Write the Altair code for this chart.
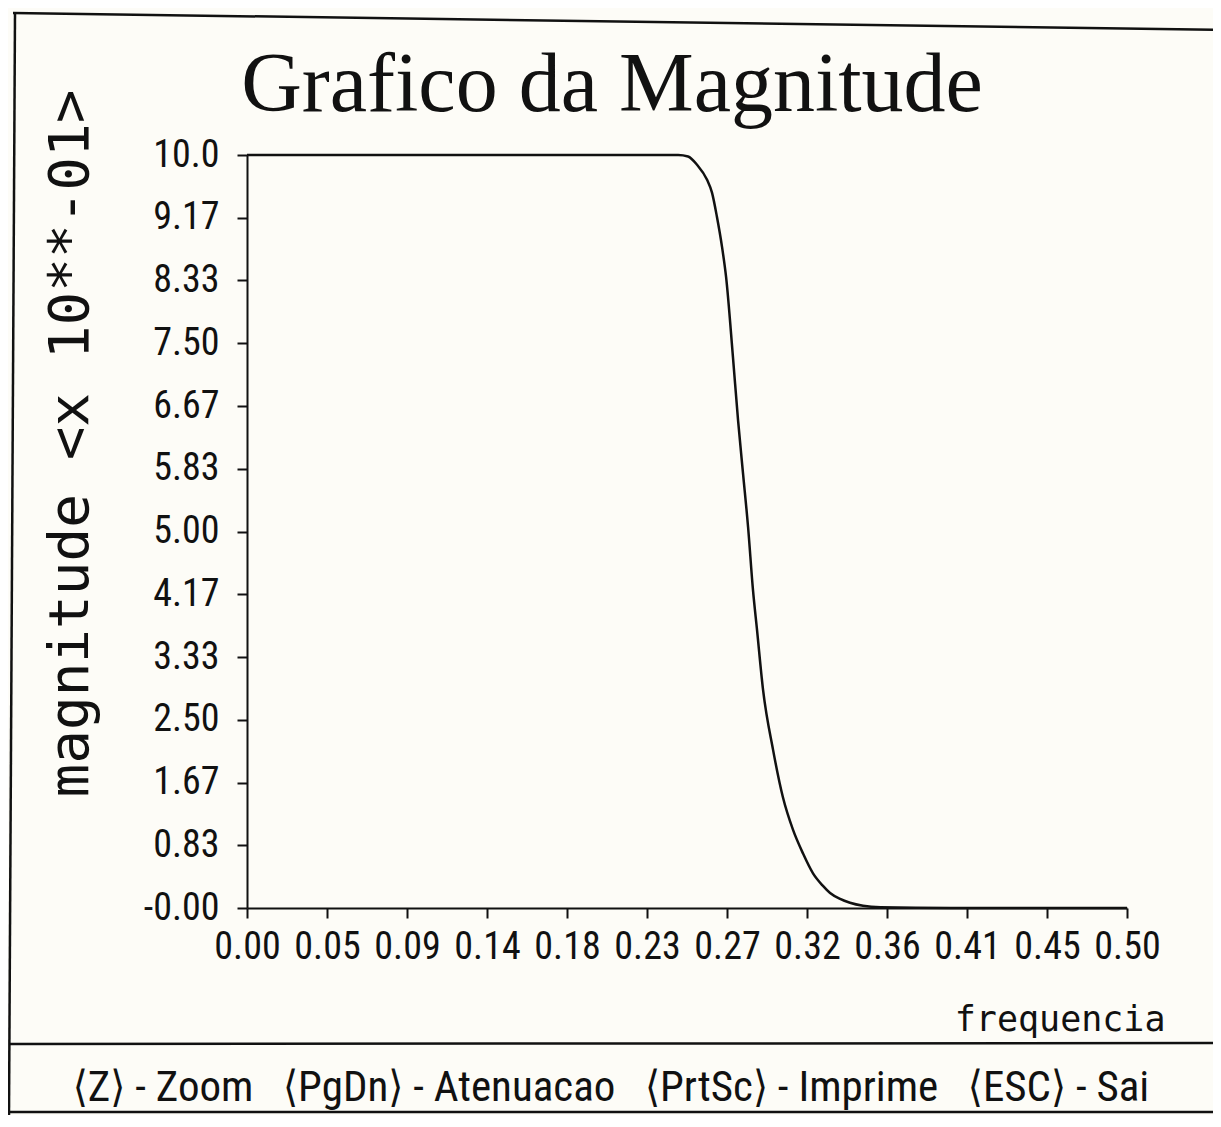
import altair as alt
import pandas as pd

# ---- data ----
freq = [0.0, 0.05, 0.10, 0.15, 0.20, 0.245, 0.2506, 0.2557, 0.2614, 0.2642,
        0.2670, 0.2699, 0.2722, 0.2761, 0.2790, 0.2818, 0.2847, 0.2875, 0.2898,
        0.2932, 0.2989, 0.3045, 0.3102, 0.3160, 0.3216, 0.3270, 0.3313, 0.3370,
        0.3426, 0.3500, 0.3600, 0.4000, 0.4500, 0.5000]
magnitude = [10.0, 10.0, 10.0, 10.0, 10.0, 10.0, 9.98, 9.87, 9.67, 9.50,
             9.18, 8.78, 8.38, 7.32, 6.48, 5.78, 5.06, 4.22, 3.69,
             2.90, 2.10, 1.47, 1.04, 0.72, 0.46, 0.30, 0.20, 0.12,
             0.07, 0.03, 0.01, 0.0, 0.0, 0.0]

x_tick_labels = ["0.00", "0.05", "0.09", "0.14", "0.18", "0.23", "0.27",
                 "0.32", "0.36", "0.41", "0.45", "0.50"]
y_tick_labels = ["-0.00", "0.83", "1.67", "2.50", "3.33", "4.17", "5.00",
                 "5.83", "6.67", "7.50", "8.33", "9.17", "10.0"]
x_tick_values = [i * 0.5 / (len(x_tick_labels) - 1) for i in range(len(x_tick_labels))]
y_tick_values = [i * 10.0 / (len(y_tick_labels) - 1) for i in range(len(y_tick_labels))]

title_text = "Grafico da Magnitude"
y_title = "magnitude <x 10**-01>"
x_title = "frequencia"
footer_items = ["⟨Z⟩ - Zoom", "⟨PgDn⟩ - Atenuacao", "⟨PrtSc⟩ - Imprime", "⟨ESC⟩ - Sai"]

df = pd.DataFrame({"f": freq, "m": magnitude})

NARROW = "Roboto Condensed, Liberation Sans Narrow, DejaVu Sans Condensed, sans-serif"
MONO = "DejaVu Sans Mono, Liberation Mono, monospace"
INK = "#111111"

def js_array(items):
    return "[" + ",".join("'" + s + "'" for s in items) + "]"

x_enc = alt.X(
    "f:Q",
    scale=alt.Scale(domain=[0, 0.5], nice=False, zero=False),
    axis=alt.Axis(
        values=x_tick_values,
        labelExpr=js_array(x_tick_labels) + "[round(datum.value*22)]",
        title=x_title, titleFont=MONO, titleFontSize=35, titleFontWeight="normal",
        titleColor=INK, titleAnchor="end", titleAlign="right",
        titleX=918, titleY=122, titleBaseline="alphabetic",
        labelPadding=10,
    ),
)
y_enc = alt.Y(
    "m:Q",
    scale=alt.Scale(domain=[0, 10], nice=False),
    axis=alt.Axis(
        values=y_tick_values,
        labelExpr=js_array(y_tick_labels) + "[round(datum.value*1.2)]",
        title=y_title, titleFont=MONO, titleFontSize=56, titleFontWeight="normal",
        titleColor=INK, titleAngle=270, titleAlign="center", titleBaseline="middle",
        titleX=-177, titleY=288,
        labelPadding=18,
    ),
)

curve = alt.Chart(df).mark_line(color=INK, strokeWidth=2.5, interpolate="monotone").encode(
    x=x_enc, y=y_enc
)

blank = alt.Data(values=[{}])

def rule(x1, y1, x2, y2, w=2.5):
    return alt.Chart(blank).mark_rule(color=INK, strokeWidth=w).encode(
        x=alt.value(x1), y=alt.value(y1), x2=alt.value(x2), y2=alt.value(y2)
    )

border_top = rule(-234, -142, 980, -125)
border_left = rule(-232, -142, -238, 960)
border_bottom = rule(-238, 957, 980, 957)
divider = rule(-237, 889, 980, 888)

title = alt.Chart(alt.Data(values=[{"t": title_text}])).mark_text(
    font="Liberation Serif", fontSize=84, color=INK, align="center", baseline="alphabetic"
).encode(text="t:N", x=alt.value(365), y=alt.value(-44))

gap = " \u00a0\u00a0"
footer = alt.Chart(alt.Data(values=[{"t": gap.join(footer_items)}])).mark_text(
    font=NARROW, fontSize=43, color=INK, align="center", baseline="alphabetic"
).encode(text="t:N", x=alt.value(364), y=alt.value(946))

chart = alt.layer(curve, border_top, border_left, border_bottom, divider, title, footer).properties(
    width=880,
    height=753,
    autosize=alt.AutoSizeParams(type="none"),
    padding={"left": 239, "top": 147, "right": 86, "bottom": 207},
    background="#fdfcf7",
).configure_view(strokeWidth=0).configure_axis(
    grid=False, domainColor=INK, domainWidth=2, tickColor=INK, tickWidth=2,
    tickSize=10, labelFont=NARROW, labelFontSize=38, labelColor=INK,
    labelFlush=False, labelOverlap=False,
)

chart.save("out.html", embed_options={"renderer": "svg", "actions": False})
